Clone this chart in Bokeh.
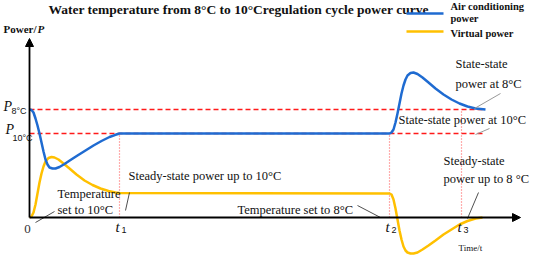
from bokeh.plotting import figure
from bokeh.models import Range1d, Arrow, NormalHead
from bokeh.core.properties import value
from bokeh.embed import file_html
from bokeh.resources import INLINE

# ---- data (time units, power units) ----
ac_time = [0.0, 0.2, 0.4, 0.6, 0.8, 1.0, 1.2, 1.4, 1.6, 1.8, 2.0, 2.3, 2.6, 3.0, 3.5, 4.1, 4.8,
           5.6, 6.4, 7.2, 8.0, 8.6, 9.0,
           36.0, 36.2, 36.4, 36.6, 36.8, 37.0, 37.2, 37.4, 37.6, 37.8, 38.1, 38.4, 38.8, 39.3,
           39.9, 40.6, 41.4, 42.2, 43.0, 43.8, 44.6, 45.6]
ac_power = [10.8, 10.75, 10.5, 9.9, 9.2, 8.4, 7.5, 6.6, 5.8, 5.3, 5.0, 4.9, 4.9, 5.05, 5.35, 5.75, 6.2,
            6.7, 7.2, 7.65, 8.05, 8.27, 8.4,
            8.4, 8.5, 8.8, 9.5, 10.4, 11.4, 12.4, 13.2, 13.8, 14.2, 14.45, 14.5, 14.35, 14.0,
            13.5, 12.9, 12.3, 11.8, 11.4, 11.1, 10.9, 10.8]

vp_time = [0.0, 0.2, 0.4, 0.6, 0.8, 1.0, 1.2, 1.4, 1.6, 1.9, 2.2, 2.5, 2.9, 3.4, 4.0, 4.7, 5.5,
           6.3, 7.1, 7.9, 8.6, 9.0,
           36.0, 36.2, 36.4, 36.6, 36.8, 37.0, 37.2, 37.4, 37.6, 37.8, 38.1, 38.4, 38.8, 39.3,
           39.9, 40.6, 41.4, 42.2, 43.0, 43.8, 44.6, 45.3]
vp_power = [0.0, 0.1, 0.5, 1.3, 2.4, 3.5, 4.4, 5.1, 5.6, 5.95, 6.05, 6.0, 5.8, 5.4, 4.9, 4.3, 3.7,
            3.25, 2.9, 2.65, 2.5, 2.45,
            2.4, 2.3, 1.8, 0.9, -0.2, -1.3, -2.2, -2.9, -3.3, -3.5, -3.6, -3.6, -3.5, -3.2,
            -2.8, -2.3, -1.7, -1.2, -0.7, -0.35, -0.1, 0.0]

p8 = 10.8
p10 = 8.4
t_marks = [9.0, 36.0, 43.2]

serif = value("Liberation Serif")
sans = value("Liberation Sans")

p = figure(width=533, height=257, output_backend="svg", toolbar_location=None,
           x_range=Range1d(-2.9, 50.4), y_range=Range1d(-4.0, 21.7), min_border=0)
p.axis.visible = False
p.grid.visible = False
p.outline_line_color = None
p.background_fill_color = "white"

# reference dashed lines
p.line([0, 45.6], [p8, p8], line_color="#ff1a1a", line_width=1.5, line_dash="5 3")
p.line([0, 45.6], [p10, p10], line_color="#ff1a1a", line_width=1.5, line_dash="5 3")
# vertical dotted lines
p.line([t_marks[0]] * 2, [0, p10], line_color="#ff5c5c", line_width=1.2, line_dash="1 2")
p.line([t_marks[1]] * 2, [0, p10], line_color="#ff5c5c", line_width=1.2, line_dash="1 2")
p.line([t_marks[2]] * 2, [0, p8], line_color="#ff5c5c", line_width=1.2, line_dash="1 2")

# curves
p.line(vp_time, vp_power, line_color="#ffc000", line_width=2.5, line_join="round")
p.line(ac_time, ac_power, line_color="#1f6bd1", line_width=2.5, line_join="round")

# axes with arrows
p.add_layout(Arrow(end=NormalHead(size=8, fill_color="black", line_color="black"),
                   x_start=0, y_start=0, x_end=49.1, y_end=0, line_width=1.8, line_color="black"))
p.add_layout(Arrow(end=NormalHead(size=8, fill_color="black", line_color="black"),
                   x_start=0, y_start=0, x_end=0, y_end=17.9, line_width=1.8, line_color="black"))

# title
p.text(x=[1.9], y=[20.8], text=["Water temperature from 8°C to 10°Cregulation cycle power curve"],
       text_font=serif, text_font_style="bold", text_font_size="13.5px", text_baseline="middle",
       text_color="#111111")

# legend
p.line([37.7, 41.4], [20.4, 20.4], line_color="#1f6bd1", line_width=2.5)
p.line([37.7, 41.4], [18.6, 18.6], line_color="#ffc000", line_width=2.5)
p.text(x=[42.1, 42.1, 42.1], y=[21.1, 19.9, 18.4], text=["Air conditioning", "power", "Virtual power"],
       text_font=serif, text_font_style="bold", text_font_size="10.5px", text_baseline="middle",
       text_color="#111111")

# y label
p.text(x=[-2.6], y=[18.9], text=["Power/"], text_font=serif, text_font_style="bold",
       text_font_size="11px", text_baseline="middle", text_color="#111111")
p.text(x=[0.8], y=[18.9], text=["P"], text_font=serif, text_font_style="bold italic",
       text_font_size="11px", text_baseline="middle", text_color="#111111")

# P labels
p.text(x=[-2.6], y=[11.1], text=["P"], text_font=serif, text_font_style="italic",
       text_font_size="14px", text_baseline="middle", text_color="#111111")
p.text(x=[-1.8], y=[10.7], text=["8°C"], text_font=sans, text_font_size="9px",
       text_baseline="middle", text_color="#111111")
p.text(x=[-2.4], y=[8.8], text=["P"], text_font=serif, text_font_style="italic",
       text_font_size="14px", text_baseline="middle", text_color="#111111")
p.text(x=[-1.7], y=[8.0], text=["10°C"], text_font=sans, text_font_size="9px",
       text_baseline="middle", text_color="#111111")

# tick labels
p.text(x=[-0.2], y=[-1.1], text=["0"], text_font=serif, text_font_size="13px",
       text_baseline="middle", text_align="center", text_color="#333333")
for tx in t_marks:
    p.text(x=[tx - 0.2], y=[-0.9], text=["t"], text_font=serif, text_font_style="italic",
           text_font_size="15px", text_baseline="middle", text_align="center", text_color="#111111")
p.text(x=[t_marks[0] + 0.45], y=[-1.2], text=["1"], text_font=sans, text_font_size="9px",
       text_baseline="middle", text_align="center", text_color="#111111")
p.text(x=[t_marks[1] + 0.45], y=[-1.2], text=["2"], text_font=sans, text_font_size="9px",
       text_baseline="middle", text_align="center", text_color="#111111")
p.text(x=[t_marks[2] + 0.45], y=[-1.2], text=["3"], text_font=sans, text_font_size="9px",
       text_baseline="middle", text_align="center", text_color="#111111")
p.text(x=[42.9], y=[-3.0], text=["Time/t"], text_font=serif, text_font_size="9px",
       text_baseline="middle", text_color="#111111")

# annotations
ann_x = [42.6, 42.6, 36.9, 9.9, 2.8, 2.8, 20.8, 41.4, 41.4]
ann_y = [15.4, 13.4, 9.8, 4.2, 2.4, 0.8, 0.8, 5.7, 3.9]
ann_t = ["State-state", "power at 8°C", "State-state power at 10°C",
         "Steady-state power up to 10°C", "Temperature", "set to 10°C",
         "Temperature set to 8°C", "Steady-state", "power up to 8 °C"]
p.text(x=ann_x, y=ann_y, text=ann_t, text_font=serif, text_font_size="12.5px",
       text_baseline="middle", text_color="#111111")

# leader lines
p.line([47.1, 44.5], [12.4, 10.9], line_color="#999999", line_width=1)
p.line([46.0, 44.6], [8.9, 8.3], line_color="#999999", line_width=1)
p.line([2.5, 0.6], [0.6, -0.5], line_color="#222222", line_width=0.8)
p.line([10.0, 9.6], [2.5, 0.7], line_color="#222222", line_width=0.8)
p.line([32.8, 35.1], [1.2, 0.0], line_color="#222222", line_width=0.8)
p.line([44.9, 43.8], [2.5, -0.1], line_color="#222222", line_width=0.8)

open("out.html", "w").write(file_html(p, INLINE))
